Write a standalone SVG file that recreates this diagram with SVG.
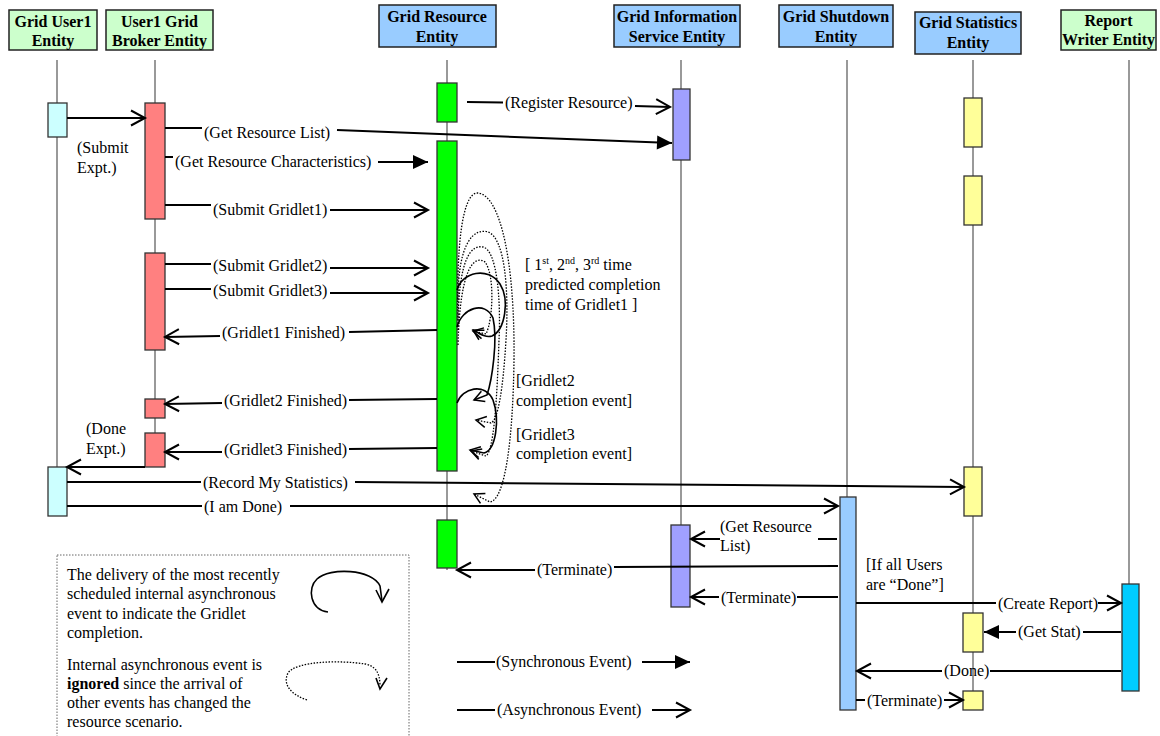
<svg xmlns="http://www.w3.org/2000/svg" width="1160" height="736" viewBox="0 0 1160 736">
<style>
.hdr{font-family:'Liberation Serif',Tinos,'Times New Roman','DejaVu Serif',serif;font-weight:bold;font-size:16px;text-anchor:middle;fill:#000}
.lbl{font-family:'Liberation Serif',Tinos,'Times New Roman','DejaVu Serif',serif;font-size:16px;fill:#000}
.hbox{stroke:#222;stroke-width:1.5}
.green{fill:#ccffcc}
.blue{fill:#99ccff}
.life{stroke:#555;stroke-width:1.2}
.act{stroke:#333;stroke-width:1.3}
.msg{stroke:#000;stroke-width:2;fill:none}
.curl{stroke:#000;stroke-width:1.6;fill:none}
.dot{stroke:#000;stroke-width:1.3;fill:none;stroke-dasharray:1.5 1.5}
</style>
<defs>
<marker id="oa" markerUnits="userSpaceOnUse" markerWidth="18" markerHeight="18" refX="15" refY="8" orient="auto" overflow="visible"><path d="M1,0.5 L15,8 L1,15.5" fill="none" stroke="#000" stroke-width="2"/></marker>
<marker id="fa" markerUnits="userSpaceOnUse" markerWidth="16" markerHeight="16" refX="15" refY="7" orient="auto" overflow="visible"><path d="M0,0 L15,7 L0,14 Z" fill="#000"/></marker>
<marker id="ca" markerUnits="userSpaceOnUse" markerWidth="12" markerHeight="12" refX="10" refY="5.5" orient="auto" overflow="visible"><path d="M0,0 L10,5.5 L0,11" fill="none" stroke="#000" stroke-width="1.5"/></marker>
</defs>
<rect width="1160" height="736" fill="#fff"/>

<g id="user1">
<rect class="hbox green" x="9" y="10" width="88" height="40"/>
<text class="hdr" x="53" y="27">Grid User1</text>
<text class="hdr" x="53" y="46">Entity</text>
<line class="life" x1="57" y1="60" x2="57" y2="467"/>
<rect class="act" x="48" y="103" width="19" height="34" fill="#ccffff"/>
<rect class="act" x="48" y="467" width="19" height="49" fill="#ccffff"/>
</g>

<g id="broker">
<rect class="hbox green" x="106" y="10" width="107" height="40"/>
<text class="hdr" x="159.5" y="27">User1 Grid</text>
<text class="hdr" x="159.5" y="46">Broker Entity</text>
<line class="life" x1="155" y1="60" x2="155" y2="467"/>
<rect class="act" x="145" y="103" width="20" height="116" fill="#ff8080"/>
<rect class="act" x="145" y="253" width="20" height="97" fill="#ff8080"/>
<rect class="act" x="145" y="399" width="20" height="19" fill="#ff8080"/>
<rect class="act" x="145" y="433" width="20" height="34" fill="#ff8080"/>
</g>

<g id="resource">
<rect class="hbox blue" x="379" y="5" width="117" height="42"/>
<text class="hdr" x="437" y="22">Grid Resource</text>
<text class="hdr" x="437" y="42">Entity</text>
<line class="life" x1="447" y1="60" x2="447" y2="570"/>
<rect class="act" x="437" y="83" width="20" height="39" fill="#00ff00"/>
<rect class="act" x="437" y="141" width="20" height="330" fill="#00ff00"/>
<rect class="act" x="437" y="520" width="20" height="48" fill="#00ff00"/>
</g>

<g id="gis">
<rect class="hbox blue" x="614" y="5" width="126" height="42"/>
<text class="hdr" x="677" y="22">Grid Information</text>
<text class="hdr" x="677" y="42">Service Entity</text>
<line class="life" x1="681" y1="60" x2="681" y2="606"/>
<rect class="act" x="673" y="89" width="17" height="71" fill="#a0a0ff"/>
<rect class="act" x="671" y="525" width="19" height="82" fill="#a0a0ff"/>
</g>

<g id="shutdown">
<rect class="hbox blue" x="779" y="5" width="114" height="42"/>
<text class="hdr" x="836" y="22">Grid Shutdown</text>
<text class="hdr" x="836" y="42">Entity</text>
<line class="life" x1="847" y1="60" x2="847" y2="497"/>
<rect class="act" x="840" y="497" width="16" height="213" fill="#99ccff"/>
</g>

<g id="statistics">
<rect class="hbox blue" x="915" y="12" width="106" height="42"/>
<text class="hdr" x="968" y="28">Grid Statistics</text>
<text class="hdr" x="968" y="48">Entity</text>
<line class="life" x1="973" y1="60" x2="973" y2="691"/>
<rect class="act" x="964" y="98" width="18" height="49" fill="#ffff99"/>
<rect class="act" x="964" y="176" width="18" height="49" fill="#ffff99"/>
<rect class="act" x="964" y="467" width="18" height="49" fill="#ffff99"/>
<rect class="act" x="963" y="613" width="20" height="39" fill="#ffff99"/>
<rect class="act" x="963" y="691" width="20" height="19" fill="#ffff99"/>
</g>

<g id="reportwriter">
<rect class="hbox green" x="1061" y="10" width="95" height="40"/>
<text class="hdr" x="1108.5" y="26">Report</text>
<text class="hdr" x="1108.5" y="45">Writer Entity</text>
<line class="life" x1="1129" y1="60" x2="1129" y2="584"/>
<rect class="act" x="1122" y="584" width="17" height="107" fill="#00ccff"/>
</g>

<g id="connectors">
<path class="msg" d="M67,118 L145,118" marker-end="url(#oa)"/>
<text class="lbl" x="77" y="153">(Submit</text>
<text class="lbl" x="77" y="173">Expt.)</text>

<path class="msg" d="M467,102 L503,102.5"/>
<path class="msg" d="M635,106 L670,107" marker-end="url(#oa)"/>
<text class="lbl" x="505" y="108">(Register Resource)</text>

<path class="msg" d="M165,128 L202,128"/>
<path class="msg" d="M337,130 L672,143" marker-end="url(#fa)"/>
<text class="lbl" x="204" y="138">(Get Resource List)</text>

<path class="msg" d="M165,157 L173,157"/>
<path class="msg" d="M378,162 L428,162" marker-end="url(#fa)"/>
<text class="lbl" x="175" y="167">(Get Resource Characteristics)</text>

<path class="msg" d="M165,205 L211,205"/>
<path class="msg" d="M330,210 L428,210" marker-end="url(#oa)"/>
<text class="lbl" x="213" y="215">(Submit Gridlet1)</text>

<path class="msg" d="M165,264 L211,264"/>
<path class="msg" d="M330,268 L428,268" marker-end="url(#oa)"/>
<text class="lbl" x="213" y="271">(Submit Gridlet2)</text>

<path class="msg" d="M165,289 L211,289"/>
<path class="msg" d="M330,293 L428,293" marker-end="url(#oa)"/>
<text class="lbl" x="213" y="296">(Submit Gridlet3)</text>

<path class="msg" d="M437,330 L349,332"/>
<path class="msg" d="M220,336 L165,337" marker-end="url(#oa)"/>
<text class="lbl" x="222" y="338">(Gridlet1 Finished)</text>

<path class="msg" d="M437,399 L349,400"/>
<path class="msg" d="M222,403 L165,404" marker-end="url(#oa)"/>
<text class="lbl" x="224" y="406">(Gridlet2 Finished)</text>

<path class="msg" d="M437,448 L349,449"/>
<path class="msg" d="M222,452 L165,452" marker-end="url(#oa)"/>
<text class="lbl" x="224" y="455">(Gridlet3 Finished)</text>

<path class="msg" d="M145,467 L67,467" stroke-width="2.6" marker-end="url(#oa)"/>
<text class="lbl" x="86" y="434">(Done</text>
<text class="lbl" x="86" y="454">Expt.)</text>

<path class="msg" d="M67,482 L201,482"/>
<path class="msg" d="M355,482 L964,487" marker-end="url(#oa)"/>
<text class="lbl" x="203" y="488">(Record My Statistics)</text>

<path class="msg" d="M67,506 L202,506"/>
<path class="msg" d="M290,506 L838,506" marker-end="url(#oa)"/>
<text class="lbl" x="204" y="512">(I am Done)</text>

<path class="msg" d="M837,539 L818,539"/>
<path class="msg" d="M720,539 L691,539" marker-end="url(#oa)"/>
<text class="lbl" x="720" y="532">(Get Resource</text>
<text class="lbl" x="720" y="551">List)</text>

<path class="msg" d="M838,566 L614,567"/>
<path class="msg" d="M535,570 L457,570" marker-end="url(#oa)"/>
<text class="lbl" x="537" y="575">(Terminate)</text>

<path class="msg" d="M838,597 L797,597"/>
<path class="msg" d="M719,597 L691,597" marker-end="url(#oa)"/>
<text class="lbl" x="721" y="603">(Terminate)</text>

<text class="lbl" x="866" y="570">[If all Users</text>
<text class="lbl" x="866" y="590">are “Done”]</text>

<path class="msg" d="M856,603 L996,603"/>
<path class="msg" d="M1098,603 L1121,603" marker-end="url(#oa)"/>
<text class="lbl" x="998" y="609">(Create Report)</text>

<path class="msg" d="M1121,632 L1083,632"/>
<path class="msg" d="M1016,632 L984,632" marker-end="url(#fa)"/>
<text class="lbl" x="1018" y="637">(Get Stat)</text>

<path class="msg" d="M1121,671 L990,671"/>
<path class="msg" d="M942,671 L857,671" marker-end="url(#oa)"/>
<text class="lbl" x="944" y="676">(Done)</text>

<path class="msg" d="M856,700 L865,700"/>
<path class="msg" d="M944,700 L963,700" marker-end="url(#oa)"/>
<text class="lbl" x="867" y="706">(Terminate)</text>

<path class="dot" d="M458,320 C456,230 465,192 478,193 C500,195 515,260 514,360 C513,440 505,500 490,502 L474,494" marker-end="url(#ca)"/>
<path class="dot" d="M458,300 C458,240 475,228 488,232 C505,238 509,290 506,340 C503,390 498,420 491,423 L476,420" marker-end="url(#ca)"/>
<path class="dot" d="M458,330 C458,255 472,245 483,247 C497,250 501,300 499,340 C497,400 494,450 486,456 L471,451" marker-end="url(#ca)"/>
<path class="dot" d="M458,345 C460,265 475,255 485,262 C495,275 493,320 486,334 L473,331" marker-end="url(#ca)"/>
<path class="curl" d="M457,290 C462,272 488,266 500,284 C510,300 505,330 492,336 C486,338 480,334 473,330" marker-end="url(#ca)"/>
<path class="curl" d="M457,327 C462,308 485,300 493,318 C498,340 492,380 487,395 L474,400" marker-end="url(#ca)"/>
<path class="curl" d="M457,403 C462,388 485,382 493,400 C500,420 496,450 484,453 L470,450" marker-end="url(#ca)"/>

<text class="lbl" x="525" y="270">[ 1<tspan font-size="10" dy="-6">st</tspan><tspan dy="6">, 2</tspan><tspan font-size="10" dy="-6">nd</tspan><tspan dy="6">, 3</tspan><tspan font-size="10" dy="-6">rd</tspan><tspan dy="6"> time</tspan></text>
<text class="lbl" x="525" y="290">predicted completion</text>
<text class="lbl" x="525" y="310">time of Gridlet1 ]</text>
<text class="lbl" x="516" y="386">[Gridlet2</text>
<text class="lbl" x="516" y="406">completion event]</text>
<text class="lbl" x="516" y="440">[Gridlet3</text>
<text class="lbl" x="516" y="459">completion event]</text>
</g>

<g id="legend">
<rect x="57" y="555" width="352" height="195" fill="none" stroke="#666" stroke-width="1" stroke-dasharray="1.5 1.5"/>
<text class="lbl" x="67" y="580">The delivery of the most recently</text>
<text class="lbl" x="67" y="599">scheduled internal asynchronous</text>
<text class="lbl" x="67" y="619">event to indicate the Gridlet</text>
<text class="lbl" x="67" y="638">completion.</text>
<text class="lbl" x="67" y="670">Internal asynchronous event is</text>
<text class="lbl" x="67" y="689"><tspan font-weight="bold">ignored</tspan> since the arrival of</text>
<text class="lbl" x="67" y="708">other events has changed the</text>
<text class="lbl" x="67" y="727">resource scenario.</text>
<path class="curl" d="M328,612 C310,610 307,588 317,579 C330,567 372,569 380,586 L382,601"/>
<path class="curl" d="M376,590 L382,602 L389,589"/>
<path class="dot" d="M307,700 C292,695 282,685 288,673 C296,661 340,660 365,664 C375,666 380,672 380,686"/>
<path class="curl" d="M376,678 L380,689 L387,678"/>

<path class="msg" d="M457,662 L495,662"/>
<path class="msg" d="M642,662 L690,662" marker-end="url(#fa)"/>
<text class="lbl" x="496" y="667">(Synchronous Event)</text>
<path class="msg" d="M457,710 L495,710"/>
<path class="msg" d="M652,710 L690,710" marker-end="url(#oa)"/>
<text class="lbl" x="497" y="715">(Asynchronous Event)</text>
</g>
</svg>
